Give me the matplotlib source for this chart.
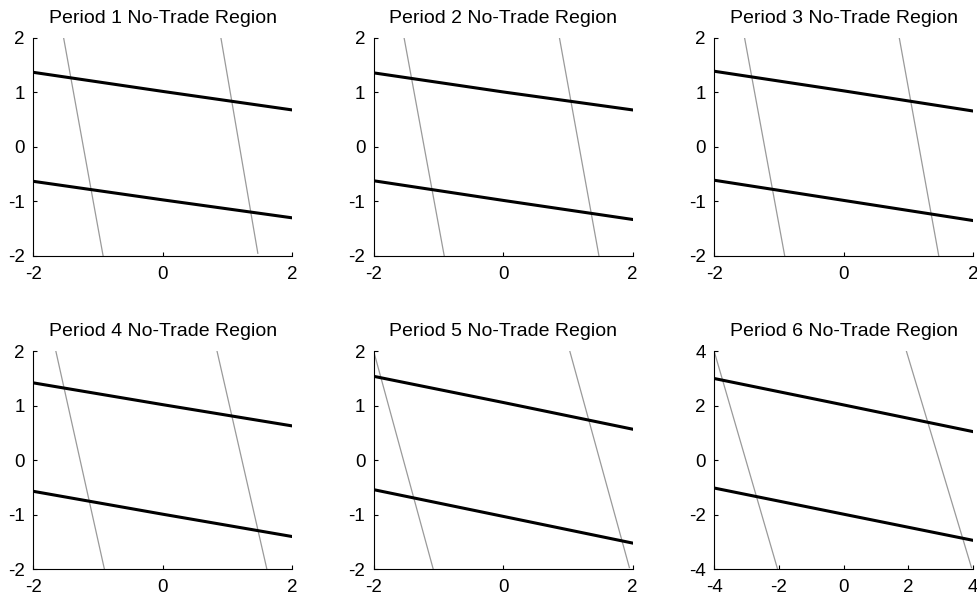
import numpy as np
import matplotlib
matplotlib.use("Agg")
import matplotlib.pyplot as plt

plt.rcParams["font.family"] = ["Liberation Sans", "DejaVu Sans"]
plt.rcParams["axes.unicode_minus"] = False

# boundary lines per period
titles = [f"Period {i} No-Trade Region" for i in range(1, 7)]
limits = [2, 2, 2, 2, 2, 4]

upper_x = [-2, 0, 2]
upper_y = [
    [1.37, 1.02, 0.68],
    [1.36, 1.01, 0.68],
    [1.39, 1.03, 0.66],
    [1.42, 1.02, 0.63],
    [1.54, 1.06, 0.57],
    [3.00, 2.03, 1.05],
]
lower_y = [
    [-0.63, -0.97, -1.30],
    [-0.62, -0.98, -1.33],
    [-0.61, -0.98, -1.35],
    [-0.57, -0.99, -1.40],
    [-0.54, -1.03, -1.52],
    [-1.02, -1.98, -2.94],
]
# steep lines: (x_top, y_top, x_bottom, y_bottom)
left_steep = [
    (-1.53, 2.0, -0.92, -2.0),
    (-1.53, 2.0, -0.91, -2.0),
    (-1.53, 2.0, -0.91, -2.0),
    (-1.65, 2.0, -0.90, -2.0),
    (-2.00, 2.0, -1.08, -2.0),
    (-4.00, 4.0, -2.04, -4.0),
]
right_steep = [
    (0.90, 2.0, 1.47, -1.95),
    (0.87, 2.0, 1.48, -2.0),
    (0.86, 2.0, 1.47, -2.0),
    (0.84, 2.0, 1.61, -2.0),
    (1.03, 2.0, 1.95, -1.97),
    (1.94, 4.0, 3.95, -3.94),
]

fig, axes = plt.subplots(2, 3, figsize=(9.77, 6.03), dpi=100)
plt.subplots_adjust(left=0.034, right=0.996, bottom=0.056, top=0.937,
                    wspace=0.315, hspace=0.437)

for i, ax in enumerate(axes.flat):
    lim = limits[i]
    scale = lim / 2
    ux = np.array(upper_x) * scale
    for seg in (left_steep[i], right_steep[i]):
        ax.plot([seg[0], seg[2]], [seg[1], seg[3]], color="#9a9a9a", lw=0.9)
    ax.plot(ux, upper_y[i], color="black", lw=2.2)
    ax.plot(ux, lower_y[i], color="black", lw=2.2)
    ax.set_xlim(-lim, lim)
    ax.set_ylim(-lim, lim)
    if lim == 2:
        ax.set_xticks([-2, 0, 2])
        ax.set_yticks([-2, -1, 0, 1, 2])
    else:
        ax.set_xticks([-4, -2, 0, 2, 4])
        ax.set_yticks([-4, -2, 0, 2, 4])
    ax.spines["top"].set_visible(False)
    ax.spines["right"].set_visible(False)
    ax.tick_params(direction="in", length=3, labelsize=13.5)
    ax.tick_params(axis="x", pad=7)
    ax.tick_params(axis="y", pad=6)
    ax.set_title(titles[i], fontsize=14, pad=11)

fig.savefig("out.png", dpi=100)
